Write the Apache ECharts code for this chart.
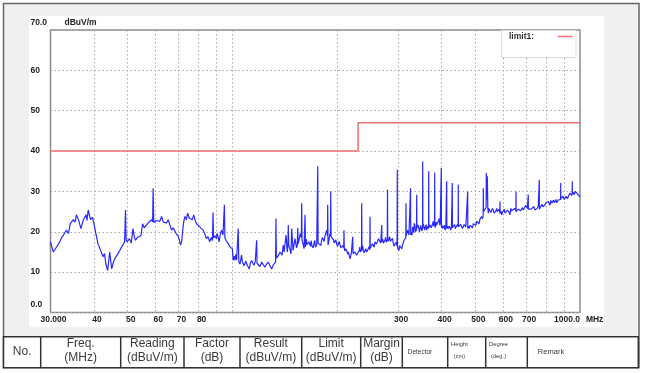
<!DOCTYPE html>
<html><head><meta charset="utf-8">
<script src="https://cdn.jsdelivr.net/npm/echarts@6/dist/echarts.min.js"></script>
<style>html,body{margin:0;padding:0;background:#fff}#c{width:645px;height:373px}</style>
</head><body><div id="c"></div>
<script>
// ---------------- data ----------------
const yTickValues = [0,10,20,30,40,50,60,70];
const xGridFreqs = [40,50,60,70,80,90,100,200,300,400,500,600,700,800,900];
const xLabelFreqs = [30,40,50,60,70,80,300,400,500,600,700,1000];
const limitName = 'limit1';
const limitFreq = [30,230,230,1000];
const limitLevel = [40,40,47,47];
// measured trace: [frequency MHz, level dBuV/m]
const traceSamples = [
[30.0,17.5],[30.56,15.0],[31.26,16.3],[31.9,17.5],[32.3,18.6],[32.7,19.2],[33.3,20.4],[33.8,19.6],[34.2,22.0],[34.9,23.0],
[35.3,22.4],[35.6,24.2],[36.1,23.0],[36.7,20.8],[37.3,23.0],[37.97,24.2],[38.2,22.8],[38.5,25.4],[39.1,23.0],[39.6,23.6],
[40.0,22.0],[40.5,19.6],[41.1,17.0],[41.8,15.4],[42.5,13.8],[42.9,14.6],[43.3,12.0],[43.8,10.4],[44.4,15.0],[45.0,10.8],
[45.4,12.2],[45.9,13.3],[46.4,13.0],[46.9,14.6],[47.5,15.4],[48.0,16.2],[48.5,16.8],[49.0,17.5],[49.15,17.5],[49.3,25.4],
[49.5,18.0],[49.8,17.5],[50.6,18.3],[51.2,17.2],[51.8,20.8],[52.3,18.6],[52.7,17.9],[53.3,18.6],[54.0,18.3],[54.6,19.0],
[55.2,22.0],[55.8,21.0],[56.5,21.2],[57.1,22.0],[57.7,22.5],[58.6,23.0],[59.0,22.5],[59.2,30.8],[59.45,22.3],[59.8,22.0],
[60.5,22.8],[61.2,22.5],[61.9,22.6],[62.6,23.8],[63.3,22.4],[64.0,22.5],[64.7,22.2],[65.4,23.0],[66.2,21.6],[66.9,20.4],
[67.5,21.0],[68.2,20.4],[69.0,19.5],[70.0,18.8],[71.0,16.7],[71.5,17.6],[72.0,20.4],[72.5,22.5],[73.1,23.8],[73.8,23.0],
[74.4,24.6],[75.2,23.4],[75.9,23.3],[76.7,23.0],[77.5,24.2],[78.2,22.8],[78.9,22.0],[79.7,21.8],[80.6,21.2],[81.5,21.6],
[82.4,20.4],[83.3,19.6],[84.2,18.3],[85.1,18.8],[86.1,17.5],[87.0,18.6],[87.7,17.8],[88.0,24.8],[88.3,18.5],[89.2,19.0],
[90.0,18.3],[90.4,19.6],[91.0,18.8],[91.6,17.5],[92.3,19.2],[93.1,20.4],[94.0,19.2],[94.6,19.0],[94.9,26.7],[95.2,18.5],
[95.9,17.9],[96.6,18.2],[97.4,17.0],[98.6,16.2],[100.0,15.8],[100.6,12.9],[101.2,14.0],[101.8,13.0],[102.4,14.4],[102.9,13.0],
[103.6,12.8],[104.0,20.8],[104.4,12.5],[105.2,12.0],[105.8,13.2],[106.3,14.2],[106.9,12.6],[107.5,12.5],[108.1,11.6],[108.7,11.5],
[109.4,12.8],[110.0,12.0],[111.0,11.6],[111.9,10.8],[112.8,12.4],
[113.7,12.9],[114.6,12.2],[115.4,11.7],[116.4,12.6],[117.2,12.5],[117.5,17.9],[117.8,12.2],[118.8,12.0],[120.1,11.4],[121.5,12.5],
[122.8,11.8],[124.2,11.25],[125.5,12.0],[126.9,12.5],[128.3,11.6],[129.8,10.8],[131.2,11.8],[132.7,12.0],[133.2,12.5],[133.5,23.3],
[133.9,13.5],[135.5,14.0],[137.2,15.0],[139.0,14.2],[140.2,16.7],[141.0,15.0],[141.8,15.4],[142.7,19.2],[143.9,15.0],[144.5,16.5],
[144.9,21.7],[145.3,16.8],[146.1,16.0],[147.5,14.5],[148.2,20.8],[149.5,15.4],[150.5,16.8],[151.5,18.3],[153.0,16.0],[153.8,16.6],
[154.2,21.0],[154.7,17.0],[155.5,17.0],[156.9,19.6],[158.0,18.5],[158.3,27.1],[158.7,18.0],[159.8,16.8],[160.8,15.8],[161.6,16.0],
[161.9,24.2],[162.3,16.25],[163.2,18.2],[164.0,16.8],[165.0,16.4],[166.2,17.5],[167.8,16.4],[168.5,17.8],[169.5,16.5],[170.6,16.0],
[171.8,17.1],[172.6,17.9],[173.4,16.2],[174.9,16.7],[175.8,17.0],[176.1,36.25],[176.5,17.2],[177.5,17.6],[178.8,17.0],[179.7,16.6],
[180.6,17.8],[181.6,18.6],[182.7,18.3],[183.7,17.6],[184.8,19.0],[185.8,19.4],[186.9,20.4],[187.8,19.0],[188.1,26.7],[188.5,16.7],
[189.8,18.2],[190.4,17.8],[191.0,19.6],[191.6,19.0],[191.9,30.0],[192.3,18.8],[193.5,18.75],[194.5,19.0],[195.5,18.0],[196.4,17.2],
[197.4,17.5],[198.5,18.0],[199.6,17.0],[200.7,16.4],[201.8,16.7],[203.0,17.6],[204.0,17.2],[205.2,16.0],[206.4,16.25],[207.6,16.6],
[209.2,16.0],[209.5,20.4],[209.9,16.0],[210.8,15.2],[211.9,15.8],[212.8,16.2],[213.7,15.2],[214.7,14.4],[215.6,15.0],[217.0,14.8],
[218.1,13.3],[219.0,13.6],[220.0,14.8],[221.7,14.5],[222.0,18.75],[222.4,14.6],[225.4,15.0],[227.9,14.2],[229.9,14.8],[231.9,15.4],
[232.7,16.2],[233.6,15.0],[234.5,15.0],[235.3,15.5],[235.6,27.1],[236.0,15.4],[237.0,16.6],[238.1,15.4],[239.5,14.8],[240.8,14.6],
[242.0,15.8],[243.5,15.0],[244.8,14.6],[246.0,15.8],[247.3,16.3],[248.6,15.5],[248.9,23.75],[249.3,16.0],[250.5,15.6],[251.7,16.25],
[253.0,17.0],[254.5,16.8],[255.8,16.2],[257.3,17.5],[258.7,17.8],[260.1,17.0],[261.5,16.6],[263.0,18.3],[264.4,18.6],[266.0,17.9],
[267.3,17.2],[268.7,17.6],[269.0,21.7],[269.4,17.5],[270.8,18.2],[272.0,17.2],[273.4,17.0],[274.9,17.9],[275.8,18.6],[277.0,17.4],
[278.2,17.4],[279.1,18.0],[279.5,30.4],[279.9,18.3],[281.0,17.6],[282.3,18.3],[283.5,18.8],[284.8,17.6],[286.0,17.2],[287.4,17.9],
[288.8,18.4],[290.5,17.0],[292.0,16.4],[293.7,16.7],[295.6,17.4],[297.8,16.5],[298.2,35.4],[298.6,16.0],[300.0,15.6],[301.6,15.4],
[302.9,16.6],[304.3,16.2],[307.0,15.8],[309.4,17.0],[311.8,17.9],[315.5,18.5],[315.9,27.1],[316.3,19.0],[317.5,19.6],[319.5,20.4],
[320.8,19.8],[322.2,19.2],[323.6,18.8],[325.1,19.5],[325.5,30.8],[325.9,19.2],[327.3,20.0],[328.7,19.2],[330.0,21.2],[331.2,20.6],
[332.4,19.8],[333.7,22.1],[335.0,21.6],[336.4,20.0],[337.5,19.6],[338.7,20.5],[339.1,29.2],[339.5,21.0],[340.8,20.8],[342.0,21.7],
[343.1,21.8],[344.3,20.6],[345.4,20.0],[346.6,20.4],[348.0,21.6],[349.5,21.2],[351.0,20.2],[352.5,20.8],[352.9,37.4],[353.3,21.0],
[354.5,21.8],[355.9,21.25],[357.5,20.4],[359.1,20.6],[360.7,21.8],[362.3,20.4],[363.4,20.2],[364.6,21.4],[365.7,21.0],[366.8,20.8],
[367.2,35.0],[367.6,21.0],[369.0,20.6],[370.4,21.7],[372.0,22.0],[373.7,21.0],[375.3,21.2],[377.0,22.1],[378.3,22.6],[379.5,21.4],
[381.6,22.0],[382.0,34.6],[382.4,21.8],[383.5,21.0],[384.7,21.2],[386.0,22.4],[387.1,21.7],[388.8,21.4],[390.4,22.4],[392.1,22.8],
[393.8,23.3],[395.0,21.6],[396.3,22.2],[398.7,22.0],[399.1,35.8],[399.5,21.0],[401.0,21.6],[402.8,20.8],[404.3,20.6],[405.9,21.2],
[407.4,21.6],[409.0,20.4],[410.0,20.6],[411.1,21.0],[412.2,21.4],[413.2,20.6],[413.6,32.5],[414.0,20.8],[416.0,21.4],[418.0,20.8],
[420.0,20.4],[421.3,21.4],[422.8,21.2],[424.7,20.4],[425.8,20.8],[426.8,21.0],[428.8,20.8],[429.2,32.1],[429.6,21.0],[431.8,20.6],
[434.1,21.25],[436.0,21.8],[438.0,20.8],[440.0,20.6],[442.0,21.25],[444.0,21.8],[446.2,21.3],[446.6,31.7],[447.0,21.2],[449.2,21.0],
[451.6,20.8],[454.0,21.8],[456.6,21.6],[459.0,20.8],[461.6,21.25],[464.3,21.8],[466.9,21.8],[469.5,21.2],[472.2,20.8],[474.9,20.9],
[475.3,30.0],[475.7,20.8],[477.5,21.4],[479.4,20.8],[481.5,20.6],[483.7,21.6],[486.0,21.8],[488.1,21.25],[490.8,21.0],[493.5,22.0],
[496.2,22.2],[498.9,21.7],[501.6,21.6],[504.3,22.6],[507.0,22.9],[509.9,22.5],[512.8,22.0],[515.7,23.2],[518.6,23.6],[521.6,23.75],
[524.0,23.2],[526.6,24.0],[527.1,30.8],[527.6,25.0],[532.0,25.4],[537.0,26.0],[537.7,34.6],[539.5,28.0],[541.3,33.75],[543.0,26.0],
[544.8,24.6],[545.8,25.8],[548.0,25.6],[551.0,25.8],[554.0,24.8],[557.2,24.6],[560.2,25.8],[563.3,25.3],[566.4,24.6],[569.5,24.2],
[572.8,25.2],[576.0,25.8],[579.0,25.0],[582.1,24.6],[585.1,25.6],[588.2,24.8],[588.7,27.5],[589.2,24.5],[592.3,25.2],[595.4,24.2],
[598.6,24.8],[601.9,25.0],[605.2,25.6],[608.5,24.6],[611.8,24.9],[615.1,24.8],[618.5,25.4],[621.8,25.8],[625.4,24.8],[628.9,24.2],
[632.3,25.8],[635.8,25.2],[639.3,24.8],[642.8,25.0],[648.4,25.8],[654.0,25.2],[654.5,30.0],[655.0,25.0],[660.1,25.0],[664.9,25.6],
[669.8,25.6],[674.8,25.2],[679.7,25.0],[683.4,26.0],[687.1,25.4],[690.9,25.4],[694.7,25.8],[698.3,26.6],[702.0,26.2],[705.7,25.8],
[709.5,25.6],[710.0,29.2],[710.5,25.6],[714.3,26.0],[718.1,25.4],[724.0,25.6],[730.0,25.8],[736.1,26.3],[742.2,25.4],[748.0,25.8],
[753.6,25.8],[758.4,26.4],[763.2,26.0],[763.7,32.9],[764.2,25.6],[768.3,25.6],[772.4,25.4],[777.5,26.8],[782.6,26.2],[787.8,26.2],
[793.1,26.7],[797.4,27.2],[801.8,27.0],[806.2,26.8],[810.6,27.5],[815.2,27.4],[819.8,26.6],[824.4,27.8],[829.1,27.1],[833.6,26.9],
[838.2,27.8],[843.0,27.2],[847.5,27.5],[852.1,28.0],[856.8,27.2],[861.5,27.4],[866.2,27.9],[871.0,28.2],[875.0,27.6],[879.6,28.0],
[880.1,32.1],[880.6,28.2],[885.0,27.9],[889.4,28.3],[893.3,28.8],[897.3,28.6],[901.3,28.0],[905.4,27.9],[910.3,28.8],[915.3,28.4],
[920.3,28.2],[925.4,28.75],[930.6,29.0],[935.9,29.6],[941.2,29.8],[945.5,29.0],[949.7,29.5],[950.2,32.5],[950.7,29.3],[956.0,29.8],
[961.0,29.2],[965.3,29.4],[969.6,30.0],[974.0,30.2],[978.4,29.6],[983.0,29.4],[987.5,29.2],[992.0,29.6],[996.6,28.75],[1000,29.0]
];
const tableHeaders = [
  ['No.'], ['Freq.','(MHz)'], ['Reading','(dBuV/m)'], ['Factor','(dB)'], ['Result','(dBuV/m)'],
  ['Limit','(dBuV/m)'], ['Margin','(dB)'], ['Detector'], ['Height','(cm)'], ['Degree','(deg.)'], ['Remark']
];

// ---------------- layout / style ----------------
const FONT = 'Liberation Sans, Arial, sans-serif';
const tableCols = [3.5,40.7,120.7,184,240,301.7,360.7,402.3,447.7,485.7,527.3,638.3];
const tableTop = 336.7, tableBottom = 367.7;
// header text style per column: [fontSize, centerX (null = column center)]
const headerStyle = [
  [12,null],[12,null],[12,null],[12,null],[12,null],[12,null],[12,null],
  [6.5,420],[5.8,459.5],[5.8,498.5],[7.5,551]
];
const LIMIT_COLOR = '#f07070';

const g = [];
g.push({type:'rect', z:-100, shape:{x:3.5,y:3.5,width:635.5,height:364}, style:{fill:'#f0f0f0', stroke:'#666', lineWidth:1.5}});
g.push({type:'rect', z:-99, shape:{x:29,y:16,width:575,height:311}, style:{fill:'#fff'}});
g.push({type:'rect', z:-98, shape:{x:tableCols[0],y:tableTop,width:tableCols[tableCols.length-1]-tableCols[0],height:tableBottom-tableTop}, style:{fill:'#fff', stroke:'#333', lineWidth:1.5}});
for (let i=1;i<tableCols.length-1;i++){
  g.push({type:'line', z:-97, shape:{x1:tableCols[i],y1:tableTop,x2:tableCols[i],y2:tableBottom}, style:{stroke:'#333', lineWidth:1.5}});
}
tableHeaders.forEach((lines,i)=>{
  const [fs, cxo] = headerStyle[i];
  const cx = cxo==null ? (tableCols[i]+tableCols[i+1])/2 : cxo;
  const big = fs>=10;
  if (lines.length===1){
    g.push({type:'text', z:-96, x:cx, y:352, style:{text:lines[0], font:fs+'px '+FONT, fill:'#3a3a3a', textAlign:'center', textVerticalAlign:'middle'}});
  } else {
    g.push({type:'text', z:-96, x:cx, y:big?343.8:344.5, style:{text:lines[0], font:fs+'px '+FONT, fill:'#3a3a3a', textAlign:'center', textVerticalAlign:'middle'}});
    g.push({type:'text', z:-96, x:cx, y:big?357.6:356.5, style:{text:lines[1], font:fs+'px '+FONT, fill:'#3a3a3a', textAlign:'center', textVerticalAlign:'middle'}});
  }
});
// legend box (limit line key)
g.push({type:'rect', z:50, shape:{x:501.7,y:30.5,width:74.3,height:27}, style:{fill:'#fff', stroke:'#dcdcdc', lineWidth:1}});
g.push({type:'text', z:51, x:509, y:36.5, style:{text:limitName+':', font:'bold 8.5px '+FONT, fill:'#333', textVerticalAlign:'middle'}});
g.push({type:'line', z:51, shape:{x1:557.7,y1:36.5,x2:572.7,y2:36.5}, style:{stroke:LIMIT_COLOR, lineWidth:1.5}});

const labelStyle = {fontFamily:FONT, fontWeight:'bold', fontSize:8.5, color:'#222'};
const chart = echarts.init(document.getElementById('c'), null, {renderer:'canvas'});
chart.setOption({
  animation:false,
  backgroundColor:'#fff',
  graphic:{elements:g},
  grid:{left:50.5, top:30, right:65, bottom:60.5, show:true, backgroundColor:'#fff', borderColor:'#8c8c8c', borderWidth:1.5, outerBoundsMode:'none'},
  xAxis:{
    type:'log', logBase:10, min:30, max:1000,
    axisLine:{show:false},
    axisTick:{show:false, customValues:xGridFreqs},
    minorTick:{show:false}, minorSplitLine:{show:false},
    splitLine:{show:true, lineStyle:{color:'#a8a8a8', width:1, type:[1.5,2.5]}},
    axisLabel:Object.assign({
      customValues:xLabelFreqs, margin:3, padding:[0,0,0,6], alignMaxLabel:'right',
      formatter:v=>{const r=Math.round(v); return r===30?'30.000':(r===1000?'1000.0':String(r));}
    }, labelStyle),
    name:'MHz', nameLocation:'end', nameGap:5,
    nameTextStyle:Object.assign({align:'left', verticalAlign:'top', padding:[2.5,0,0,0]}, labelStyle)
  },
  yAxis:{
    type:'value', min:0, max:70, interval:10,
    axisLine:{show:false}, axisTick:{show:false},
    splitLine:{show:true, lineStyle:{color:'#a8a8a8', width:1, type:[1.5,2.5]}},
    axisLabel:Object.assign({
      align:'left', margin:20,
      formatter:v=> v===0?'{e|0.0}':(v===70?'{e|70.0}':'{n|'+v+'}'),
      rich:{e:Object.assign({padding:[0,0,15,0]},labelStyle), n:Object.assign({},labelStyle)}
    }, labelStyle),
    name:'dBuV/m', nameLocation:'end', nameGap:3,
    nameTextStyle:Object.assign({align:'left', padding:[0,0,0,14]}, labelStyle)
  },
  series:[
    {type:'line', name:'trace', data:traceSamples.slice().sort((a,b)=>a[0]-b[0]), symbol:'none', showSymbol:false, z:2,
     lineStyle:{color:'#0a0aff', width:1.2, opacity:0.88}, itemStyle:{color:'#0a0aff'}},
    {type:'line', name:limitName, data:limitFreq.map((f,i)=>[f,limitLevel[i]]), symbol:'none', showSymbol:false, z:3,
     lineStyle:{color:LIMIT_COLOR, width:1.5}, itemStyle:{color:LIMIT_COLOR}}
  ]
});
</script>
</body></html>
